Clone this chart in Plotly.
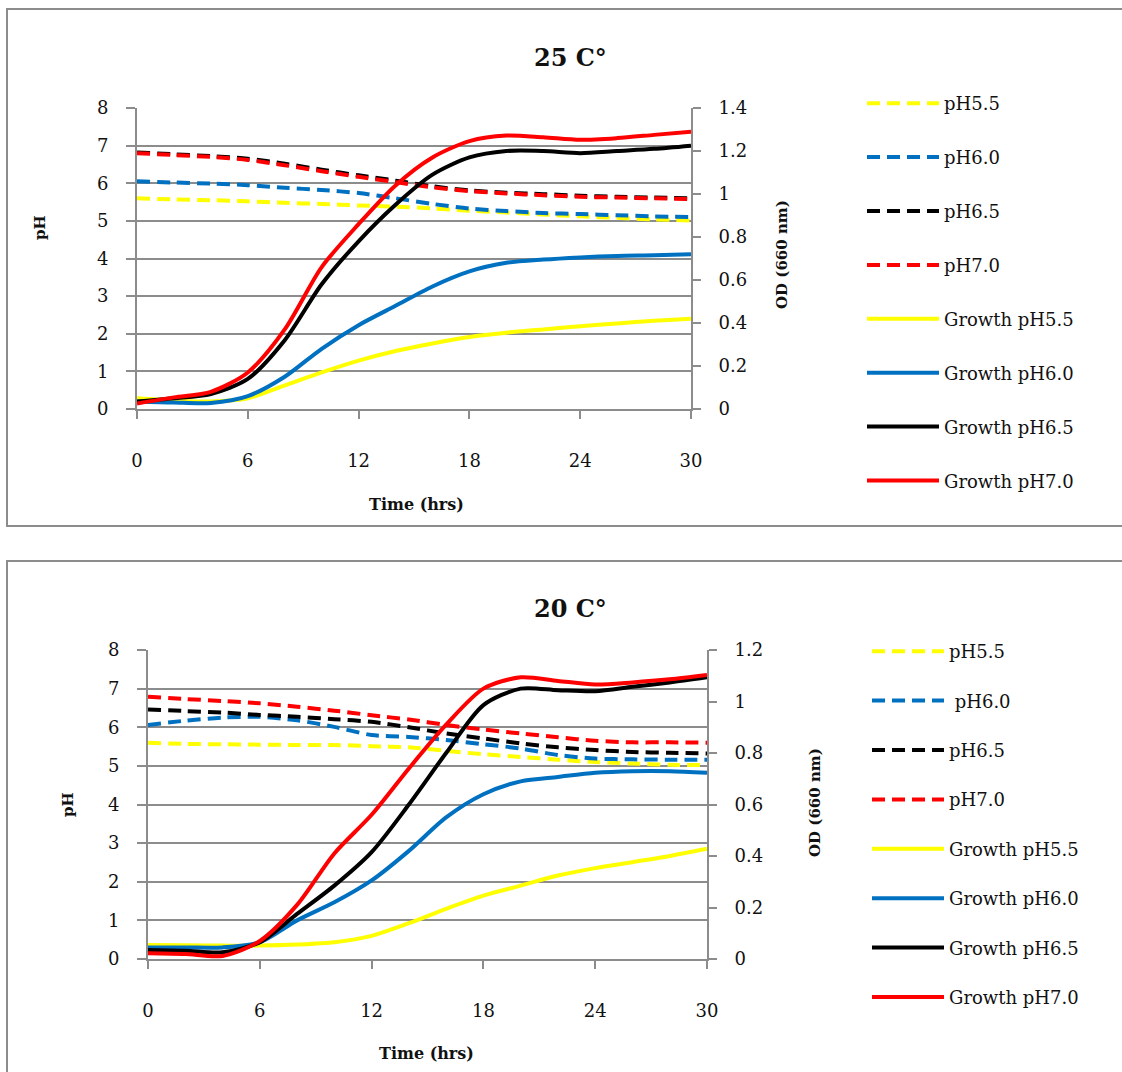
import plotly.graph_objects as go

# Sampling times (hours)
hours = [0, 2, 4, 6, 8, 10, 12, 14, 16, 18, 20, 22, 24, 26, 28, 30]

# ---- 25 °C ----
ph_55_25 = [5.60, 5.57, 5.55, 5.52, 5.48, 5.45, 5.41, 5.38, 5.33, 5.27, 5.22, 5.17, 5.12, 5.08, 5.04, 5.01]
ph_60_25 = [6.05, 6.02, 5.99, 5.95, 5.88, 5.82, 5.74, 5.60, 5.45, 5.33, 5.26, 5.21, 5.18, 5.15, 5.12, 5.10]
ph_65_25 = [6.82, 6.77, 6.72, 6.65, 6.52, 6.36, 6.21, 6.07, 5.92, 5.81, 5.75, 5.71, 5.67, 5.64, 5.62, 5.60]
ph_70_25 = [6.80, 6.75, 6.70, 6.62, 6.48, 6.32, 6.17, 6.03, 5.89, 5.79, 5.73, 5.68, 5.64, 5.62, 5.60, 5.58]
od_55_25 = [0.05, 0.04, 0.035, 0.05, 0.11, 0.17, 0.225, 0.27, 0.305, 0.335, 0.355, 0.37, 0.385, 0.398, 0.41, 0.42]
od_60_25 = [0.035, 0.03, 0.028, 0.06, 0.15, 0.28, 0.39, 0.48, 0.57, 0.64, 0.68, 0.695, 0.705, 0.712, 0.715, 0.72]
od_65_25 = [0.035, 0.05, 0.07, 0.14, 0.32, 0.58, 0.78, 0.95, 1.09, 1.17, 1.20, 1.20, 1.19, 1.20, 1.21, 1.225]
od_70_25 = [0.025, 0.054, 0.08, 0.17, 0.37, 0.66, 0.86, 1.04, 1.17, 1.246, 1.272, 1.264, 1.252, 1.26, 1.275, 1.29]

# ---- 20 °C ----
ph_55_20 = [5.60, 5.57, 5.56, 5.55, 5.54, 5.54, 5.51, 5.48, 5.39, 5.30, 5.23, 5.16, 5.10, 5.06, 5.03, 5.02]
ph_60_20 = [6.06, 6.17, 6.25, 6.27, 6.18, 6.01, 5.80, 5.75, 5.67, 5.56, 5.45, 5.28, 5.19, 5.17, 5.16, 5.16]
ph_65_20 = [6.46, 6.42, 6.38, 6.32, 6.27, 6.21, 6.14, 6.00, 5.84, 5.71, 5.58, 5.48, 5.41, 5.36, 5.34, 5.32]
ph_70_20 = [6.79, 6.73, 6.68, 6.62, 6.53, 6.43, 6.31, 6.20, 6.06, 5.94, 5.84, 5.74, 5.65, 5.61, 5.61, 5.60]
od_55_20 = [0.054, 0.053, 0.052, 0.052, 0.056, 0.065, 0.09, 0.139, 0.195, 0.246, 0.285, 0.324, 0.353, 0.376, 0.40, 0.428]
od_60_20 = [0.045, 0.045, 0.045, 0.065, 0.15, 0.22, 0.305, 0.42, 0.55, 0.64, 0.69, 0.707, 0.723, 0.729, 0.729, 0.723]
od_65_20 = [0.035, 0.032, 0.026, 0.065, 0.175, 0.285, 0.415, 0.60, 0.80, 0.986, 1.05, 1.044, 1.04, 1.057, 1.074, 1.094]
od_70_20 = [0.022, 0.019, 0.012, 0.07, 0.21, 0.41, 0.56, 0.74, 0.91, 1.05, 1.094, 1.08, 1.066, 1.074, 1.086, 1.103]

x_ticks = [0, 6, 12, 18, 24, 30]
ph_labels = ["pH5.5", "pH6.0", "pH6.5", "pH7.0"]
ph_labels_20 = ["pH5.5", "\u00a0pH6.0", "pH6.5", "pH7.0"]
growth_labels = ["Growth pH5.5", "Growth pH6.0", "Growth pH6.5", "Growth pH7.0"]
colors = ["#FFFF00", "#0070C0", "#000000", "#FF0000"]

W, H = 1122, 1072
FONT = "DejaVu Serif"
GRID = "#8c8c8c"


def px(x):
    return x / W


def py(y):
    return 1 - y / H


fig = go.Figure()


def add_panel(ph_sets, od_sets, ph_names, xa, ya_ph, ya_od, legend, tag):
    for i, (vals, name) in enumerate(zip(ph_sets, ph_names)):
        fig.add_trace(go.Scatter(
            x=hours, y=vals, name=name, mode="lines",
            line=dict(color=colors[i], width=4, dash="13px,7px", shape="spline", smoothing=0.8),
            xaxis=xa, yaxis=ya_ph, legend=legend, legendgroup=f"{tag}p{i}"))
    for i, (vals, name) in enumerate(zip(od_sets, growth_labels)):
        fig.add_trace(go.Scatter(
            x=hours, y=vals, name=name, mode="lines",
            line=dict(color=colors[i], width=4, shape="spline", smoothing=0.8),
            xaxis=xa, yaxis=ya_od, legend=legend, legendgroup=f"{tag}g{i}"))


add_panel([ph_55_25, ph_60_25, ph_65_25, ph_70_25],
          [od_55_25, od_60_25, od_65_25, od_70_25],
          ph_labels, "x", "y", "y2", "legend", "a")
add_panel([ph_55_20, ph_60_20, ph_65_20, ph_70_20],
          [od_55_20, od_60_20, od_65_20, od_70_20],
          ph_labels_20, "x2", "y3", "y4", "legend2", "b")

tick_font = dict(family=FONT, size=18, color="#111111")

xcommon = dict(range=[0, 30], tickvals=x_ticks, ticks="outside", ticklen=8, tickwidth=2,
               tickcolor=GRID, showline=True, linecolor=GRID, linewidth=2, showgrid=False,
               zeroline=False, tickfont=tick_font, ticklabelstandoff=26, automargin=False)
phcommon = dict(range=[0, 8], dtick=1, ticks="outside", ticklen=9, tickwidth=2, tickcolor=GRID,
                showline=True, linecolor=GRID, linewidth=2, showgrid=True, gridcolor=GRID,
                gridwidth=2, zeroline=False, tickfont=tick_font, ticklabelstandoff=14,
                automargin=False)
odcommon = dict(ticks="outside", ticklen=8, tickwidth=2, tickcolor=GRID, side="right",
                showline=True, linecolor=GRID, linewidth=2, showgrid=False, zeroline=False,
                tickfont=tick_font, ticklabelstandoff=14, automargin=False)

fig.update_layout(
    width=W, height=H, margin=dict(l=0, r=0, t=0, b=0, pad=0, autoexpand=False),
    paper_bgcolor="white", plot_bgcolor="white",
    font=dict(family=FONT, size=18, color="#111111"),
    xaxis=dict(domain=[px(137), px(691)], anchor="y", **xcommon),
    yaxis=dict(domain=[py(409), py(108)], anchor="x", **phcommon),
    yaxis2=dict(domain=[py(409), py(108)], anchor="x", overlaying="y", range=[0, 1.4],
                dtick=0.2, **odcommon),
    xaxis2=dict(domain=[px(148), px(707)], anchor="y3", **xcommon),
    yaxis3=dict(domain=[py(959), py(650)], anchor="x2", **phcommon),
    yaxis4=dict(domain=[py(959), py(650)], anchor="x2", overlaying="y3", range=[0, 1.2],
                dtick=0.2, **odcommon),
    legend=dict(x=px(862), y=py(85), xanchor="left", yanchor="top", tracegroupgap=27.5,
                itemwidth=72, font=dict(family=FONT, size=18), bgcolor="rgba(0,0,0,0)"),
    legend2=dict(x=px(867), y=py(633), xanchor="left", yanchor="top", tracegroupgap=23,
                 itemwidth=72, font=dict(family=FONT, size=18), bgcolor="rgba(0,0,0,0)"),
)

# Panel frames
fig.add_shape(type="rect", xref="paper", yref="paper", x0=px(7), x1=px(1130), y0=py(526), y1=py(9),
              line=dict(color=GRID, width=2), fillcolor="rgba(0,0,0,0)", layer="below")
fig.add_shape(type="rect", xref="paper", yref="paper", x0=px(7), x1=px(1130), y0=py(1080), y1=py(561),
              line=dict(color=GRID, width=2), fillcolor="rgba(0,0,0,0)", layer="below")

bold = dict(family=FONT, color="#111111")
notes = [
    ("<b>25 C°</b>", 570, 57, 24, 0),
    ("<b>20 C°</b>", 570, 608, 24, 0),
    ("<b>Time (hrs)</b>", 416, 505, 16, 0),
    ("<b>Time (hrs)</b>", 426, 1053, 16, 0),
    ("<b>pH</b>", 40, 228, 15, -90),
    ("<b>pH</b>", 68, 805, 15, -90),
    ("<b>OD (660 nm)</b>", 782, 255, 15, -90),
    ("<b>OD (660 nm)</b>", 815, 803, 15, -90),
]
for text, x, y, size, ang in notes:
    fig.add_annotation(text=text, x=px(x), y=py(y), xref="paper", yref="paper",
                       showarrow=False, textangle=ang, font=dict(size=size, **bold),
                       xanchor="center", yanchor="middle")

fig.write_html("out.html")
